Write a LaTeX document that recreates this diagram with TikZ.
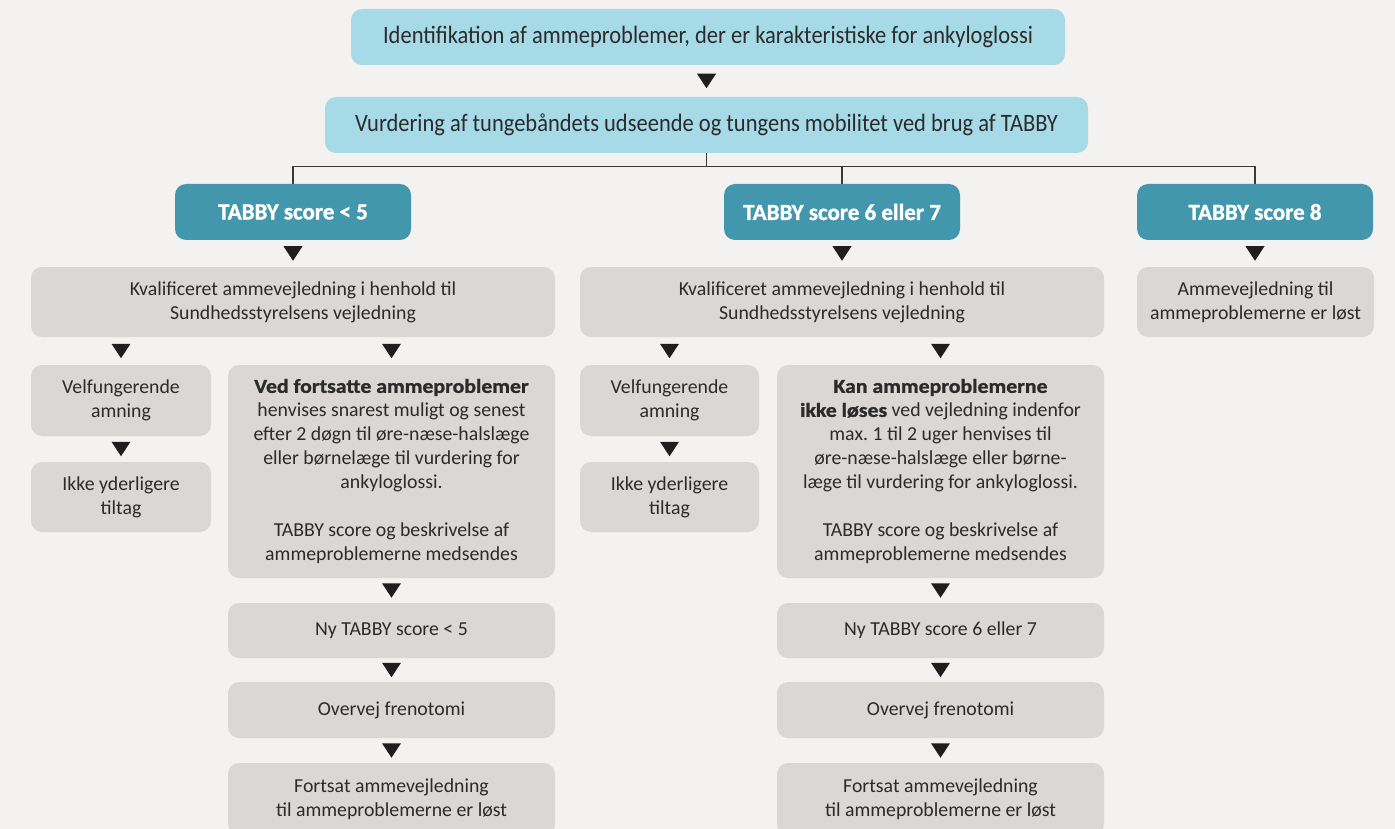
\documentclass[tikz,border=0pt]{standalone}
\usepackage{fontspec}
\setmainfont{Carlito}[BoldFeatures={FakeStretch=1.1,FakeBold=1.2}]
\newfontfamily\topfont{Carlito}[FakeStretch=0.9]
\newfontfamily\tealfont{Carlito}[BoldFeatures={FakeBold=1.2}]
\usetikzlibrary{calc}
\frenchspacing
\definecolor{bg}{HTML}{F3F2F0}
\definecolor{lightblue}{HTML}{A6DAE7}
\definecolor{tealbox}{HTML}{4397AC}
\definecolor{greybox}{HTML}{DBD7D4}
\definecolor{txt}{HTML}{2B2B2B}
\definecolor{linecol}{HTML}{3A3A3A}
\definecolor{tricol}{HTML}{1E1E1E}
\newcommand\dtri[1]{\fill[tricol] (#1) ++(-9.5,-7.25) -- ++(19,0) -- ++(-9.5,14.5) -- cycle;}
\begin{document}
\begin{tikzpicture}[x=1pt,y=-1pt,
  box/.style={rounded corners=11pt, align=center, inner sep=0pt, text=txt, font=\fontsize{19.8}{24}\selectfont},
  gbox/.style={box, fill=greybox},
  bbox/.style={box, fill=lightblue, font=\topfont\fontsize{25}{30}\selectfont, minimum height=56pt},
  tbox/.style={box, fill=tealbox, text=white, font=\tealfont\fontsize{23}{28}\bfseries\selectfont, minimum width=236pt, minimum height=56pt},
  conn/.style={draw=linecol, line width=1.3pt},
]
\fill[bg] (0,0) rectangle (1395,829);
\clip (0,0) rectangle (1395,829);

% top boxes
\node[bbox, minimum width=714pt] (b1) at (708,37) {Identifikation af ammeproblemer, der er karakteristiske for ankyloglossi};
\node[bbox, minimum width=763pt] (b2) at (706.5,125) {Vurdering af tungebåndets udseende og tungens mobilitet ved brug af TABBY};

% teal boxes
\node[tbox] (t1) at (293,212) {TABBY score < 5};
\node[tbox] (t2) at (842,212) {TABBY score 6 eller 7};
\node[tbox] (t3) at (1255,212) {TABBY score 8};

% connectors
\coordinate (hub) at ($(b2.south)+(0,13)$);
\draw[conn] (b2.south) -- (hub);
\draw[conn] (t1.north) |- (hub) -| (t3.north);
\draw[conn] (t2.north) -- (t2.north |- hub);

% left column
\node[gbox, minimum width=524pt, minimum height=70pt] (kv1) at (293,302) {Kvalificeret ammevejledning i henhold til\\Sundhedsstyrelsens vejledning};
\node[gbox, minimum width=180pt, minimum height=71pt] (vel1) at (121,400.5) {Velfungerende\\amning};
\node[gbox, minimum width=180pt, minimum height=70pt] (ik1) at (121,497) {Ikke yderligere\\tiltag};
\node[gbox, minimum width=327pt, minimum height=213pt] (big1) at (391.5,471.5) {\textbf{Ved fortsatte ammeproblemer}\\henvises snarest muligt og senest\\efter 2 døgn til øre-næse-halslæge\\eller børnelæge til vurdering for\\ankyloglossi.\\[24pt]TABBY score og beskrivelse af\\ammeproblemerne medsendes};
\node[gbox, minimum width=327pt, minimum height=55pt] (ny1) at (391.5,630.5) {Ny TABBY score < 5};
\node[gbox, minimum width=327pt, minimum height=56pt] (ov1) at (391.5,710) {Overvej frenotomi};
\node[gbox, minimum width=327pt, minimum height=72pt] (fo1) at (391.5,799) {Fortsat ammevejledning\\til ammeproblemerne er løst};

% middle column
\node[gbox, minimum width=524pt, minimum height=70pt] (kv2) at (842,302) {Kvalificeret ammevejledning i henhold til\\Sundhedsstyrelsens vejledning};
\node[gbox, minimum width=179pt, minimum height=71pt] (vel2) at (669.5,400.5) {Velfungerende\\amning};
\node[gbox, minimum width=179pt, minimum height=70pt] (ik2) at (669.5,497) {Ikke yderligere\\tiltag};
\node[gbox, minimum width=327pt, minimum height=213pt] (big2) at (940.5,471.5) {\textbf{Kan ammeproblemerne}\\\textbf{ikke løses} ved vejledning indenfor\\max. 1 til 2 uger henvises til\\øre-næse-halslæge eller børne-\\læge til vurdering for ankyloglossi.\\[24pt]TABBY score og beskrivelse af\\ammeproblemerne medsendes};
\node[gbox, minimum width=327pt, minimum height=55pt] (ny2) at (940.5,630.5) {Ny TABBY score 6 eller 7};
\node[gbox, minimum width=327pt, minimum height=56pt] (ov2) at (940.5,710) {Overvej frenotomi};
\node[gbox, minimum width=327pt, minimum height=72pt] (fo2) at (940.5,799) {Fortsat ammevejledning\\til ammeproblemerne er løst};

% right column
\node[gbox, minimum width=237pt, minimum height=70pt] (am3) at (1255.5,302) {Ammevejledning til\\ammeproblemerne er løst};

% triangles
\dtri{$(b1.south -| b2.north)!0.5!(b2.north)$}
\dtri{$(t1.south)!0.5!(t1.south |- kv1.north)$}
\dtri{$(t2.south)!0.5!(t2.south |- kv2.north)$}
\dtri{$(t3.south)!0.5!(t3.south |- am3.north)$}
\dtri{$(kv1.south -| vel1.north)!0.5!(vel1.north)$}
\dtri{$(kv1.south -| big1.north)!0.5!(big1.north)$}
\dtri{$(vel1.south)!0.5!(ik1.north)$}
\dtri{$(big1.south)!0.5!(ny1.north)$}
\dtri{$(ny1.south)!0.5!(ov1.north)$}
\dtri{$(ov1.south)!0.5!(fo1.north)$}
\dtri{$(kv2.south -| vel2.north)!0.5!(vel2.north)$}
\dtri{$(kv2.south -| big2.north)!0.5!(big2.north)$}
\dtri{$(vel2.south)!0.5!(ik2.north)$}
\dtri{$(big2.south)!0.5!(ny2.north)$}
\dtri{$(ny2.south)!0.5!(ov2.north)$}
\dtri{$(ov2.south)!0.5!(fo2.north)$}
\end{tikzpicture}
\end{document}
